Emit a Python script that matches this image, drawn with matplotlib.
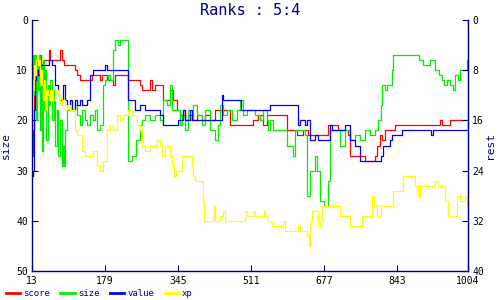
import matplotlib
matplotlib.use("Agg")
import matplotlib.pyplot as plt

NAVY = "#000080"

x_ticks = [13, 179, 345, 511, 677, 843, 1004]
left_ticks = [0, 10, 20, 30, 40, 50]
right_ticks = [0, 8, 16, 24, 32, 40]

score = [(13, 27), (15, 22), (17, 10), (20, 8), (25, 10), (29, 7), (33, 9), (38, 8), (45, 8),
         (52, 6), (55, 8), (72, 8), (77, 6), (81, 8), (85, 9), (93, 9), (104, 9), (111, 10),
         (115, 11), (122, 12), (145, 12), (150, 11), (161, 11), (168, 12), (172, 11), (179, 11),
         (183, 12), (190, 12), (197, 13), (202, 11), (224, 11), (231, 12), (252, 12), (258, 13),
         (263, 14), (270, 14), (281, 12), (286, 14), (293, 13), (304, 13), (311, 16), (320, 16),
         (327, 14), (334, 16), (343, 18), (349, 19), (356, 18), (361, 20), (367, 19), (379, 20),
         (388, 19), (399, 20), (406, 19), (418, 20), (429, 18), (463, 21), (509, 21), (515, 20),
         (527, 19), (538, 21), (547, 19), (583, 19), (593, 22), (606, 22), (615, 23), (629, 22),
         (640, 23), (679, 23), (686, 21), (695, 21), (709, 22), (724, 22), (731, 23), (736, 27),
         (758, 27), (770, 28), (788, 28), (793, 27), (797, 25), (804, 23), (809, 24), (815, 22),
         (831, 22), (838, 21), (936, 21), (940, 20), (945, 21), (959, 21), (963, 20), (1004, 20)]

size = [(13, 12), (15, 7), (17, 15), (20, 7), (22, 20), (25, 8), (27, 14), (29, 7), (31, 22),
        (33, 9), (36, 26), (38, 8), (40, 18), (43, 10), (45, 24), (49, 13), (52, 17), (54, 12),
        (58, 20), (62, 14), (65, 25), (70, 18), (72, 27), (77, 20), (81, 29), (83, 25), (86, 29),
        (88, 22), (93, 18), (99, 16), (104, 18), (111, 17), (115, 19), (122, 21), (127, 18),
        (133, 20), (138, 21), (145, 19), (152, 20), (156, 18), (161, 22), (168, 21), (174, 13),
        (179, 12), (186, 11), (190, 12), (197, 6), (202, 4), (208, 5), (213, 4), (231, 28),
        (240, 27), (250, 24), (258, 21), (263, 20), (270, 19), (281, 20), (293, 19), (304, 20),
        (311, 16), (320, 17), (327, 13), (331, 18), (345, 18), (349, 21), (354, 19), (361, 22),
        (367, 18), (372, 20), (379, 17), (388, 19), (399, 21), (406, 18), (418, 22), (429, 24),
        (436, 21), (440, 17), (447, 19), (456, 18), (468, 20), (479, 18), (486, 16), (493, 19),
        (502, 18), (520, 19), (531, 20), (538, 18), (547, 20), (549, 22), (554, 20), (561, 22),
        (588, 22), (593, 25), (606, 27), (611, 22), (629, 22), (634, 23), (638, 35), (645, 30),
        (656, 27), (661, 30), (668, 36), (677, 37), (686, 32), (690, 22), (702, 22), (713, 25),
        (724, 22), (736, 24), (747, 23), (758, 24), (770, 22), (781, 23), (793, 22), (799, 20),
        (806, 17), (809, 13), (815, 14), (820, 13), (827, 13), (831, 10), (834, 7), (891, 7),
        (893, 8), (902, 9), (918, 8), (929, 10), (938, 11), (945, 12), (950, 13), (956, 12),
        (963, 13), (970, 14), (975, 11), (982, 12), (986, 10), (997, 10), (1002, 8), (1004, 8)]

value = [(13, 31), (15, 30), (17, 18), (20, 12), (22, 10), (27, 11), (31, 9), (49, 9), (52, 8),
         (58, 9), (62, 9), (65, 13), (72, 15), (77, 16), (83, 13), (88, 16), (93, 17), (99, 16),
         (104, 18), (111, 16), (115, 17), (122, 16), (127, 17), (138, 16), (145, 11), (152, 10),
         (179, 9), (183, 10), (229, 10), (231, 16), (247, 18), (258, 17), (270, 18), (286, 18),
         (304, 19), (311, 21), (343, 21), (345, 20), (356, 18), (361, 20), (372, 18), (377, 20),
         (440, 20), (445, 15), (447, 16), (486, 16), (488, 18), (554, 17), (615, 17), (618, 21),
         (622, 20), (634, 21), (638, 20), (645, 24), (656, 23), (663, 24), (686, 24), (690, 21),
         (695, 22), (720, 22), (724, 21), (731, 21), (736, 24), (747, 25), (758, 28), (781, 28),
         (806, 27), (811, 25), (820, 25), (827, 24), (831, 23), (849, 23), (854, 22), (918, 22),
         (920, 23), (925, 22), (1000, 22), (1004, 21)]

xp = [(13, 12), (15, 14), (17, 9), (20, 11), (22, 8), (25, 7), (27, 9), (29, 8), (31, 13),
      (33, 10), (36, 13), (38, 16), (40, 12), (43, 18), (45, 14), (49, 15), (52, 16), (54, 14),
      (58, 16), (65, 14), (72, 15), (77, 17), (81, 16), (88, 18), (93, 17), (99, 18), (111, 22),
      (115, 23), (127, 26), (133, 27), (152, 26), (161, 29), (168, 30), (174, 28), (183, 22),
      (190, 21), (197, 22), (206, 19), (213, 20), (220, 19), (231, 18), (240, 19), (252, 21),
      (258, 22), (263, 25), (270, 26), (281, 25), (297, 24), (304, 25), (308, 27), (315, 25),
      (327, 27), (331, 29), (336, 31), (340, 30), (354, 27), (377, 29), (379, 31), (383, 32),
      (399, 32), (402, 36), (404, 40), (418, 40), (424, 39), (427, 37), (429, 40), (436, 40),
      (440, 39), (447, 38), (452, 40), (493, 40), (497, 38), (502, 39), (515, 38), (520, 39),
      (538, 39), (541, 38), (543, 39), (547, 40), (558, 41), (577, 41), (583, 40), (588, 42),
      (615, 42), (618, 41), (622, 42), (634, 42), (638, 43), (643, 45), (645, 40), (649, 38),
      (661, 38), (663, 41), (668, 40), (672, 37), (706, 37), (713, 39), (731, 39), (736, 41),
      (758, 41), (763, 39), (781, 39), (786, 35), (790, 37), (797, 39), (806, 37), (831, 37),
      (834, 34), (854, 34), (856, 31), (879, 31), (884, 33), (891, 35), (895, 33), (918, 33),
      (929, 32), (936, 33), (945, 33), (952, 36), (959, 39), (975, 39), (979, 35), (986, 36),
      (997, 35), (1002, 37), (1004, 36)]

series = [("score", score, "#ff0000"), ("size", size, "#00ee00"),
          ("value", value, "#0000ff"), ("xp", xp, "#ffff00")]

plt.rcParams["font.family"] = "DejaVu Sans Mono"

fig = plt.figure(figsize=(5, 3), dpi=100)
ax = fig.add_axes([0.064, 0.097, 0.872, 0.836])

for name, pts, color in series:
    xs = [p[0] for p in pts]
    ys = [p[1] for p in pts]
    ax.plot(xs, ys, drawstyle="steps-post", color=color, lw=0.9, label=name)

ax.set_xlim(13, 1004)
ax.set_ylim(50, 0)
ax.set_xticks(x_ticks)
ax.set_yticks(left_ticks)
for side in ("left", "bottom", "right"):
    ax.spines[side].set_color(NAVY)
    ax.spines[side].set_linewidth(1.0)
ax.spines["top"].set_visible(False)
ax.tick_params(direction="in", length=4, color=NAVY, labelsize=7, pad=3)
ax.tick_params(axis="x", pad=4)
ax.set_ylabel("size", color=NAVY, fontsize=8, labelpad=4)

ax2 = ax.twinx()
ax2.set_ylim(40, 0)
ax2.set_yticks(right_ticks)
ax2.spines["top"].set_visible(False)
ax2.spines["right"].set_color(NAVY)
ax2.spines["left"].set_visible(False)
ax2.spines["bottom"].set_visible(False)
ax2.tick_params(direction="in", length=4, color=NAVY, labelsize=7, pad=3)
ax2.set_ylabel("rest", color=NAVY, fontsize=8, rotation=90, labelpad=1)

fig.text(0.5, 0.965, "Ranks : 5:4", ha="center", va="center", color=NAVY, fontsize=11)

handles, labels = ax.get_legend_handles_labels()
leg = fig.legend(handles, labels, loc="lower left", bbox_to_anchor=(-0.005, -0.02), ncol=4,
                 frameon=False, fontsize=6.5, handlelength=1.6, handletextpad=0.3,
                 columnspacing=1.2, labelcolor=NAVY)
for line in leg.get_lines():
    line.set_linewidth(2)

fig.savefig("out.png", dpi=100)
